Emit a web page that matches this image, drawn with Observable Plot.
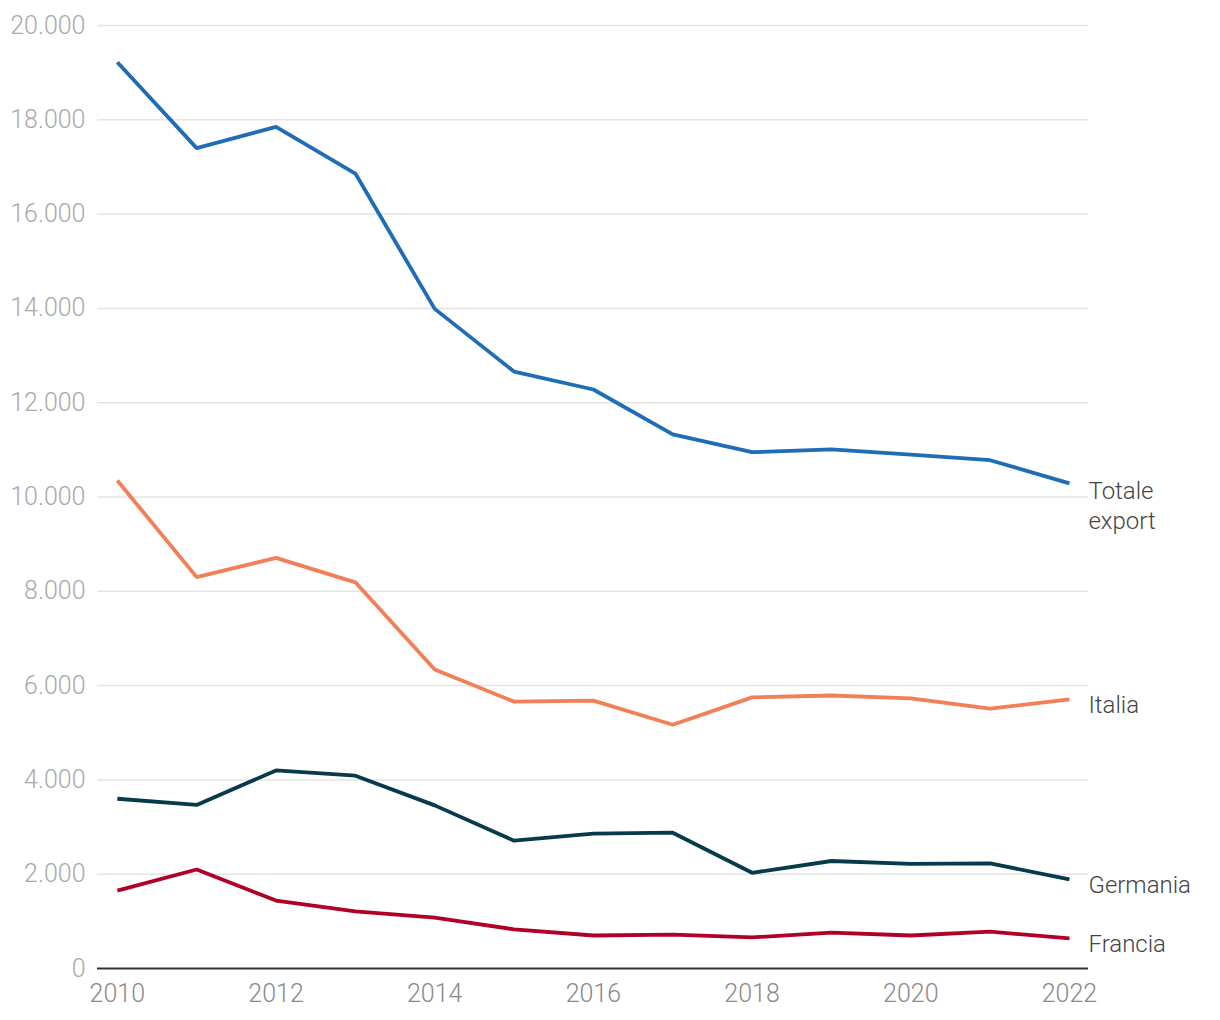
<!DOCTYPE html>
<html>
<head>
<meta charset="utf-8">
<script src="https://cdn.jsdelivr.net/npm/d3@7"></script>
<script src="https://cdn.jsdelivr.net/npm/@observablehq/plot@0.6"></script>
<style>
  html, body { margin: 0; padding: 0; background: #fff; }
  #chart { width: 1220px; height: 1020px; }
</style>
</head>
<body>
<div id="chart"></div>
<script>
const years = [2010, 2011, 2012, 2013, 2014, 2015, 2016, 2017, 2018, 2019, 2020, 2021, 2022];
const seriesNames = ["Totale export", "Italia", "Germania", "Francia"];
const totaleExport = [19220, 17400, 17850, 16860, 13990, 12660, 12280, 11330, 10950, 11010, 10900, 10780, 10290];
const italia = [10350, 8300, 8710, 8190, 6340, 5660, 5680, 5170, 5750, 5790, 5730, 5510, 5710];
const germania = [3600, 3470, 4200, 4090, 3460, 2710, 2860, 2880, 2030, 2280, 2220, 2230, 1890];
const francia = [1650, 2100, 1440, 1210, 1080, 830, 700, 720, 660, 760, 700, 780, 640];
const yTicks = [0, 2000, 4000, 6000, 8000, 10000, 12000, 14000, 16000, 18000, 20000];
const xTicks = [2010, 2012, 2014, 2016, 2018, 2020, 2022];
const colors = ["#1f6db6", "#f27f56", "#063a4c", "#b10026"];

const valuesBySeries = [totaleExport, italia, germania, francia];
const data = seriesNames.flatMap((s, i) => years.map((year, j) => ({series: s, year, value: valuesBySeries[i][j]})));
const lastPoints = seriesNames.map((s, i) => ({series: s, year: years[years.length - 1], value: valuesBySeries[i][years.length - 1]}));

const itLocale = d3.formatLocale({decimal: ",", thousands: ".", grouping: [3], currency: ["", "€"]});
const fmt = itLocale.format(",");

const chart = Plot.plot({
  width: 1220,
  height: 1020,
  marginLeft: 97,
  marginRight: 132,
  marginTop: 25,
  marginBottom: 52,
  style: {fontFamily: "Roboto, 'Noto Sans', sans-serif", fontSize: "24px", background: "#fff"},
  x: {domain: [2009.75, 2022.24]},
  y: {domain: [0, 20000]},
  color: {domain: seriesNames, range: colors},
  marks: [
    Plot.ruleY(yTicks.filter(d => d > 0), {stroke: "#e4e4e4", strokeWidth: 1.5}),
    Plot.axisY({ticks: yTicks, tickSize: 0, tickPadding: 12, tickFormat: fmt, label: null, fill: "#a9a9a9", fontWeight: 300, fontSize: 25}),
    Plot.axisX({ticks: xTicks, tickSize: 0, tickPadding: 16, tickFormat: d => String(d), label: null, fill: "#8a8a8a", fontWeight: 300, fontSize: 25}),
    Plot.ruleY([0], {stroke: "#333", strokeWidth: 2}),
    Plot.line(data, {x: "year", y: "value", z: "series", stroke: "series", strokeWidth: 3.8, strokeLinejoin: "miter", strokeLinecap: "butt"}),
    Plot.text(lastPoints.filter(d => d.series !== "Totale export"), {x: "year", y: "value", text: "series", textAnchor: "start", dx: 19, dy: 6, fill: "#444", fontSize: 24, fontWeight: 300}),
    Plot.text(lastPoints.filter(d => d.series === "Totale export"), {x: "year", y: "value", text: d => "Totale\nexport", textAnchor: "start", lineAnchor: "middle", lineHeight: 1.25, dx: 19, dy: 21, fill: "#444", fontSize: 24, fontWeight: 300})
  ]
});
document.getElementById("chart").appendChild(chart);
</script>
</body>
</html>
